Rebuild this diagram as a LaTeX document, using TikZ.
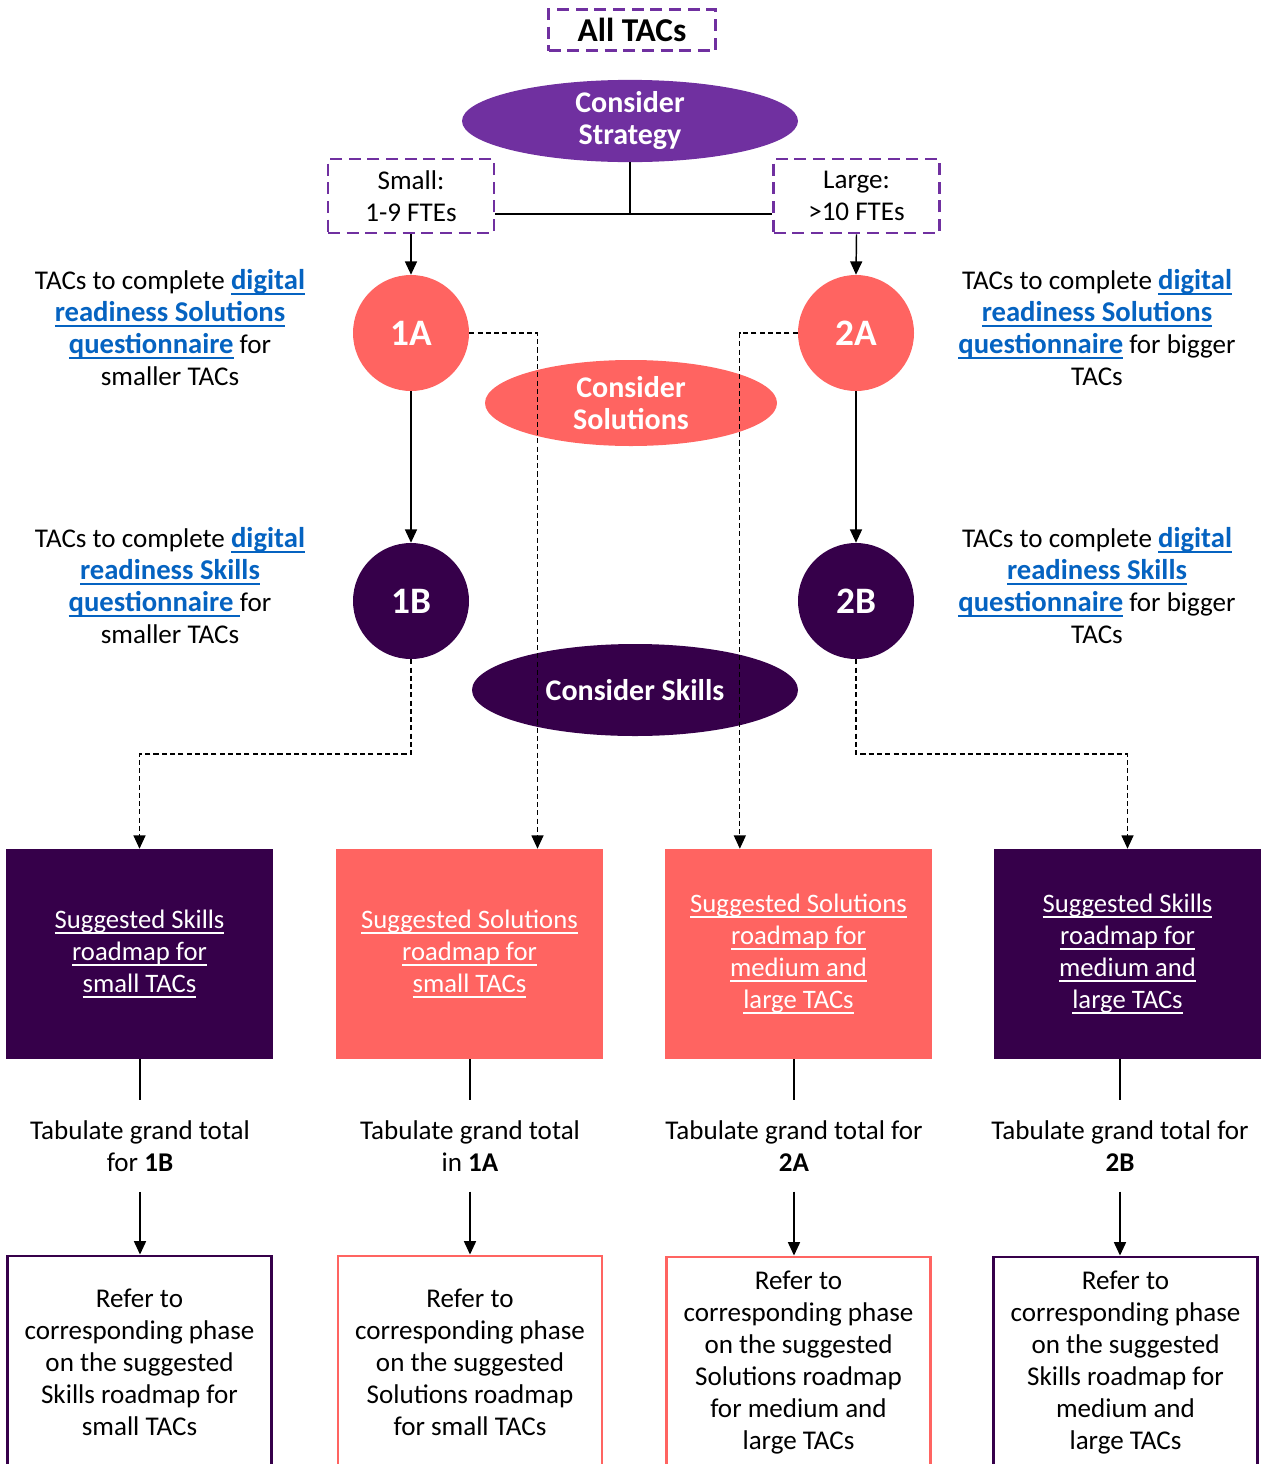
\documentclass[tikz,border=0pt]{standalone}
\usepackage{fontspec}
\setmainfont{Carlito}
\usetikzlibrary{arrows.meta,shapes.geometric}

\definecolor{stratpurple}{HTML}{7030A0}
\definecolor{salmon}{HTML}{FF6461}
\definecolor{deeppurple}{HTML}{36004A}
\definecolor{linkblue}{HTML}{0563C1}

% underline at a fixed depth, independent of descenders
\newcommand\myul[1]{\setbox0\hbox{#1}\rlap{\rule[-3.8pt]{\wd0}{1.2pt}}\box0}
% hyperlink look: bold, blue, underlined
\newcommand\lnk[1]{\textcolor{linkblue}{\fontsize{21.5}{24}\selectfont\bfseries\myul{#1}}}

\tikzset{
  body/.style={font=\fontsize{20.3}{24}\selectfont, align=center, inner sep=0pt},
  sizebox/.style={draw=stratpurple, line width=2.2pt, dash pattern=on 9pt off 5pt,
    minimum width=124.5pt, minimum height=55.5pt, body},
  phase/.style={circle, minimum size=87pt, inner sep=0pt, text=white,
    font=\fontsize{28}{30}\selectfont\bfseries},
  theme/.style={ellipse, inner sep=0pt, text=white, align=center,
    font=\fontsize{22.5}{24}\selectfont\bfseries},
  roadmap/.style={rectangle, minimum width=200.25pt, minimum height=157.5pt,
    inner sep=0pt, text=white, align=center, font=\fontsize{20}{24}\selectfont},
  refer/.style={rectangle, draw, line width=2.2pt, minimum width=198pt,
    minimum height=159pt, inner sep=0pt, fill=white, body},
  tally/.style={body, inner ysep=15pt},
  conn/.style={line width=1.1pt},
  dconn/.style={line width=0.9pt, dash pattern=on 3.8pt off 2.4pt},
  tip/.style={-{Triangle[width=9pt,length=10pt]}}
}

\begin{document}
\begin{tikzpicture}[x=0.75pt, y=-0.75pt]
\useasboundingbox (0,0) rectangle (1271,1464);

% top of the tree
\node[draw=stratpurple, line width=2.2pt, dash pattern=on 9pt off 5pt,
  minimum width=125.25pt, minimum height=30.75pt, inner sep=0pt,
  font=\fontsize{25}{26}\selectfont\bfseries] (all) at (632,30) {All TACs};

\node[theme, fill=stratpurple, minimum width=252pt, minimum height=46.5pt]
  (strat) at (630,121) {Consider\\Strategy};

\node[sizebox] (small) at (411,196) {Small:\\1-9 FTEs};
\node[sizebox] (large) at (856.5,196) {Large:\\>10 FTEs};

\draw[conn] (strat.south) -- (strat.south |- 0,214);
\draw[conn] (small.east |- 0,214) -- (large.west |- 0,214);

% phase circles and theme ellipses
\node[phase, fill=salmon] (p1A) at (411,333) {1A};
\node[phase, fill=salmon] (p2A) at (856,333) {2A};
\node[phase, fill=deeppurple] (p1B) at (411,601) {1B};
\node[phase, fill=deeppurple] (p2B) at (856,601) {2B};

\node[theme, fill=salmon, minimum width=219pt, minimum height=64.5pt]
  (sol) at (631,403) {Consider\\Solutions};
\node[theme, fill=deeppurple, minimum width=244.5pt, minimum height=69pt]
  (skl) at (635,690) {Consider Skills};

\draw[conn, tip] (small.south) -- (p1A.north);
\draw[conn, tip] (large.south) -- (p2A.north);
\draw[conn, tip] (p1A.south) -- (p1B.north);
\draw[conn, tip] (p2A.south) -- (p2B.north);

% side notes
\node[body] (n1A) at (170,328) {TACs to complete \lnk{digital}\\
  \lnk{readiness Solutions}\\ \lnk{questionnaire} for\\ smaller TACs};
\node[body] (n1B) at (170,586) {TACs to complete \lnk{digital}\\
  \lnk{readiness Skills}\\ \lnk{questionnaire\ }for\\ smaller TACs};
\node[body] (n2A) at (1097,328) {TACs to complete \lnk{digital}\\
  \lnk{readiness Solutions}\\ \lnk{questionnaire} for bigger\\ TACs};
\node[body] (n2B) at (1097,586) {TACs to complete \lnk{digital}\\
  \lnk{readiness Skills}\\ \lnk{questionnaire} for bigger\\ TACs};

% suggested roadmaps
\node[roadmap, fill=deeppurple] (r1) at (139.5,954)
  {\myul{Suggested Skills}\\ \myul{roadmap for}\\ \myul{small TACs}};
\node[roadmap, fill=salmon] (r2) at (469.5,954)
  {\myul{Suggested Solutions}\\ \myul{roadmap for}\\ \myul{small TACs}};
\node[roadmap, fill=salmon] (r3) at (798.5,954)
  {\myul{Suggested Solutions}\\ \myul{roadmap for}\\ \myul{medium and}\\ \myul{large TACs}};
\node[roadmap, fill=deeppurple] (r4) at (1127.5,954)
  {\myul{Suggested Skills}\\ \myul{roadmap for}\\ \myul{medium and}\\ \myul{large TACs}};

% dashed routes from the phases to the roadmaps
\draw[dconn, tip] (p1A.east) -| ([xshift=51pt]r2.north);
\draw[dconn, tip] (p2A.west) -| ([xshift=-44pt]r3.north);
\draw[dconn, tip] (p1B.south) -- (p1B.south |- 0,754) -| (r1.north);
\draw[dconn, tip] (p2B.south) -- (p2B.south |- 0,754) -| (r4.north);

% grand totals
\node[tally] (t1) at (140,1146) {Tabulate grand total\\ for \textbf{1B}};
\node[tally] (t2) at (470,1146) {Tabulate grand total\\ in \textbf{1A}};
\node[tally] (t3) at (794,1146) {Tabulate grand total for\\ \textbf{2A}};
\node[tally] (t4) at (1120,1146) {Tabulate grand total for\\ \textbf{2B}};

% reference boxes
\node[refer, draw=deeppurple] (f1) at (139.5,1362)
  {Refer to\\ corresponding phase\\ on the suggested\\ Skills roadmap for\\ small TACs};
\node[refer, draw=salmon] (f2) at (470,1362)
  {Refer to\\ corresponding phase\\ on the suggested\\ Solutions roadmap\\ for small TACs};
\node[refer, draw=salmon] (f3) at (798.5,1363)
  {Refer to\\ corresponding phase\\ on the suggested\\ Solutions roadmap\\ for medium and\\ large TACs};
\node[refer, draw=deeppurple] (f4) at (1125.5,1363)
  {Refer to\\ corresponding phase\\ on the suggested\\ Skills roadmap for\\ medium and\\ large TACs};

\foreach \i in {1,2,3,4}{
  \draw[conn] (t\i.north |- r\i.south) -- (t\i.north);
  \draw[conn, tip] (t\i.south) -- (t\i.south |- f\i.north);
}
\end{tikzpicture}
\end{document}
